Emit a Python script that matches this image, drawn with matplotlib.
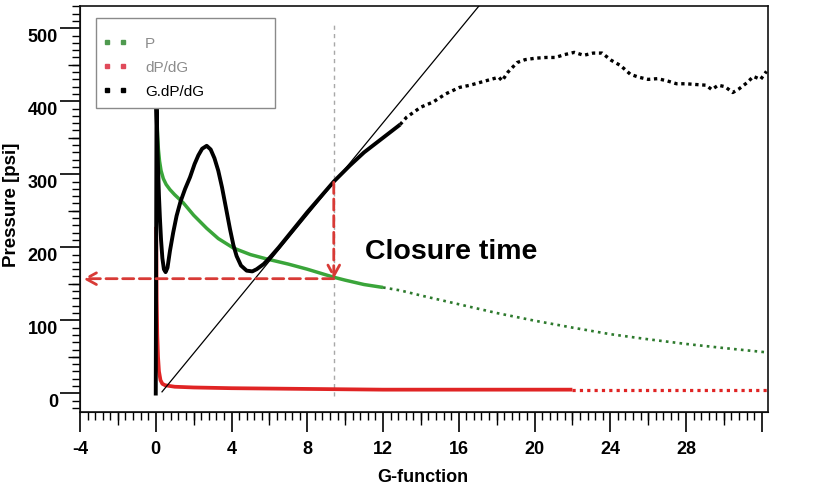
import matplotlib
matplotlib.use('Agg')
import matplotlib.pyplot as plt
import numpy as np
from matplotlib.lines import Line2D
from matplotlib.patches import Rectangle
from matplotlib.ticker import MultipleLocator
import matplotlib.transforms as mtransforms

plt.rcParams['font.family'] = ['Liberation Sans', 'DejaVu Sans']

# ---------------- data ----------------
g_black = [0.00, 0.02, 0.04, 0.08, 0.12, 0.17, 0.22, 0.28, 0.35, 0.43, 0.52, 0.62,
           0.75, 0.92, 1.10, 1.30, 1.55, 1.81, 2.05, 2.25, 2.45, 2.69, 2.90, 3.10,
           3.30, 3.50, 3.70, 3.92, 4.10, 4.27, 4.50, 4.80, 5.10, 5.33, 5.70, 6.03,
           6.50, 7.00, 7.50, 8.00, 8.50, 9.00, 9.40, 10.25, 11.0, 12.0, 12.9, 13.24,
           14.0, 14.65, 15.3, 16.04, 16.6, 17.15, 17.7, 18.12, 18.29, 18.6, 19.08,
           19.5, 20.05, 20.6, 21.1, 21.6, 22.1, 22.6, 23.1, 23.57, 24.06, 24.54,
           25.06, 25.5, 26.0, 26.5, 27.0, 27.5, 28.0, 28.5, 29.06, 29.36, 29.7,
           30.06, 30.47, 30.8, 31.2, 31.56, 31.94, 32.25]
p_black = [-3, 200, 390, 350, 310, 270, 240, 210, 185, 170, 166, 172,
           195, 220, 243, 262, 280, 296, 314, 326, 335, 339, 334, 322,
           305, 282, 255, 225, 203, 188, 175, 168, 167, 170, 177, 186,
           200, 216, 232, 248, 263, 278, 290, 312, 330, 350, 368, 378,
           392, 399, 410, 419, 422, 426, 430, 433, 428, 440, 453,
           457, 459, 460, 460, 464, 467, 463, 466, 466, 456, 449,
           437, 433, 430, 431, 428, 424, 424, 423, 422, 416, 422,
           420, 412, 417, 425, 434, 430, 441]

g_green = [0.03, 0.05, 0.07, 0.10, 0.14, 0.20, 0.28, 0.40, 0.55, 0.75, 1.00, 1.45,
           2.00, 2.69, 3.30, 4.10, 5.00, 5.86, 7.00, 8.00, 9.40, 10.0, 11.0, 12.0,
           12.9, 14.0, 16.0, 18.0, 20.0, 22.0, 24.0, 26.0, 28.0, 30.0, 32.3]
p_green = [392, 388, 372, 352, 334, 318, 305, 294, 286, 279, 272, 261,
           244, 226, 212, 199, 190, 184, 177, 170, 159, 155, 149, 145,
           141, 134, 122, 110, 99.5, 90, 81, 74, 67.6, 62, 56]

g_red = [0.02, 0.035, 0.05, 0.08, 0.12, 0.17, 0.25, 0.35, 0.50, 1.0, 2.0, 4.0,
         8.0, 12.0, 16.0, 20.0, 22.0, 24.0, 28.0, 32.3]
p_red = [228, 190, 129, 80, 50, 30, 18, 13, 11, 9, 8, 7,
         6, 5, 5, 5, 5, 5, 5, 5]

tangent_g = [0.33, 18.0]
tangent_p = [2, 560]

closure_g = 9.4
closure_p = 157
tangent_hit_p = 289
arrow_left_g = -3.85
vline_p = [-3, 506]

x_major = [-4, 0, 4, 8, 12, 16, 20, 24, 28, 32]
x_labels = ['-4', '0', '4', '8', '12', '16', '20', '24', '28', '']
x_medium = [-2, 2, 6, 10, 14, 18, 22, 26, 30]
y_major = [0, 100, 200, 300, 400, 500]
y_labels = ['0', '100', '200', '300', '400', '500']
y_medium = [50, 150, 250, 350, 450]

series_names = ['P', 'dP/dG', 'G.dP/dG']

# ---------------- figure ----------------
W, H = 839, 489
fig = plt.figure(figsize=(W/100, H/100), dpi=100)
AX_L, AX_R, AX_T, AX_B = 80, 768, 7, 413
ax = fig.add_axes([AX_L/W, 1-AX_B/H, (AX_R-AX_L)/W, (AX_B-AX_T)/H])
ax.set_xlim(-4, 32.33)
ax.set_ylim(-25.6, 530.5)

def axfx(px):
    return (px-AX_L)/(AX_R-AX_L)

def axfy(py):
    return (AX_B-py)/(AX_B-AX_T)

GREEN = '#3aa53a'
GREEN_DK = '#2d7a2d'
RED = '#e02424'
ARROW_RED = '#d83a36'

def split(g, p, cut):
    g = np.asarray(g, float); p = np.asarray(p, float)
    a = g <= cut
    b = g >= cut
    return (g[a], p[a]), (g[b], p[b])

(gs, ps), (gt, pt) = split(g_green, p_green, 12.0)
ax.plot(gs, ps, color=GREEN, lw=2.5, solid_capstyle='butt', solid_joinstyle='round', zorder=2)
ax.plot(gt, pt, color=GREEN_DK, lw=1.9, linestyle=(0, (1, 1.6)), zorder=2)

(gs, ps), (gt, pt) = split(g_red, p_red, 22.0)
ax.plot(gs, ps, color=RED, lw=2.7, solid_capstyle='butt', zorder=3)
ax.plot(gt, pt, color=RED, lw=2.3, linestyle=(0, (1, 1.3)), zorder=3)

(gs, ps), (gt, pt) = split(g_black, p_black, 12.9)
ax.plot(gs, ps, color='black', lw=2.8, solid_capstyle='butt', solid_joinstyle='round', zorder=4)
ax.plot(gt, pt, color='black', lw=2.4, linestyle=(0, (1, 1.1)), zorder=4)

# tangent line
ax.plot(tangent_g, tangent_p, color='black', lw=0.9, zorder=5)

# vertical grey dashed line
ax.plot([closure_g, closure_g], vline_p, color='#a8a8a8', lw=1.0,
        linestyle=(0, (3, 3)), zorder=1)

# red dashed arrows
arr = dict(arrowstyle='->,head_length=0.55,head_width=0.3', color=ARROW_RED,
           lw=2.0, linestyle=(0, (4, 2)), shrinkA=0, shrinkB=0, mutation_scale=14)
ax.annotate('', xy=(closure_g, closure_p), xytext=(closure_g, tangent_hit_p),
            arrowprops=arr, zorder=6)
ax.annotate('', xy=(arrow_left_g, closure_p), xytext=(closure_g, closure_p),
            arrowprops=arr, zorder=6)

ax.text(11.05, 186, 'Closure time', fontsize=20.5, fontweight='bold',
        ha='left', va='baseline', zorder=7)

# ---------------- ticks ----------------
ax.set_xticks(x_major)
ax.set_xticklabels(x_labels)
ax.xaxis.set_minor_locator(MultipleLocator(0.4))
ax.set_yticks(y_major)
ax.set_yticklabels(y_labels)
ax.yaxis.set_minor_locator(MultipleLocator(10))
ax.tick_params(axis='both', which='major', length=14.4, width=1.2, direction='out',
               labelsize=13, top=False, right=False)
ax.tick_params(axis='both', which='minor', length=5.6, width=1.0, direction='out',
               top=False, right=False)
ax.tick_params(axis='x', which='major', pad=5.5)
ax.tick_params(axis='y', which='major', pad=1.5)
for lab in ax.get_xticklabels() + ax.get_yticklabels():
    lab.set_fontweight('bold')
off = mtransforms.ScaledTranslation(0, -0.06, fig.dpi_scale_trans)
for lab in ax.get_yticklabels():
    lab.set_transform(lab.get_transform() + off)

secx = ax.secondary_xaxis('bottom')
secx.set_xticks(x_medium)
secx.tick_params(length=9.4, width=1.0, labelbottom=False, direction='out')
secy = ax.secondary_yaxis('left')
secy.set_yticks(y_medium)
secy.tick_params(length=9.0, width=1.0, labelleft=False, direction='out')

for s in ax.spines.values():
    s.set_linewidth(1.2)
    s.set_color('#111111')

ax.set_xlabel('G-function', fontsize=13, fontweight='bold')
ax.xaxis.set_label_coords(0.4985, -0.138)
ax.set_ylabel('Pressure [psi]', fontsize=13.5, fontweight='bold')
ax.yaxis.set_label_coords(-0.087, 0.512)

# ---------------- legend ----------------
handles = [Line2D([], [], color='#4f9a4f', marker='s', markersize=2.6, linestyle='none'),
           Line2D([], [], color='#e04a5a', marker='s', markersize=2.6, linestyle='none'),
           Line2D([], [], color='black', marker='s', markersize=2.6, linestyle='none')]
leg = ax.legend(handles, series_names, loc='upper left',
                bbox_to_anchor=(axfx(102.4), axfy(37)), borderaxespad=0, borderpad=0,
                numpoints=2, handlelength=1.65, handletextpad=1.14, labelspacing=0.65,
                fontsize=11, frameon=False)
tcol = ['#8c8c8c', '#8c8c8c', 'black']
for t, c in zip(leg.get_texts(), tcol):
    t.set_color(c)
ax.add_patch(Rectangle((axfx(96), axfy(109)), axfx(275)-axfx(96), axfy(19)-axfy(109),
                       transform=ax.transAxes, facecolor='white', edgecolor='#8a8a8a',
                       lw=1.0, zorder=9))
leg.set_zorder(10)

fig.savefig('out.png', dpi=100)
